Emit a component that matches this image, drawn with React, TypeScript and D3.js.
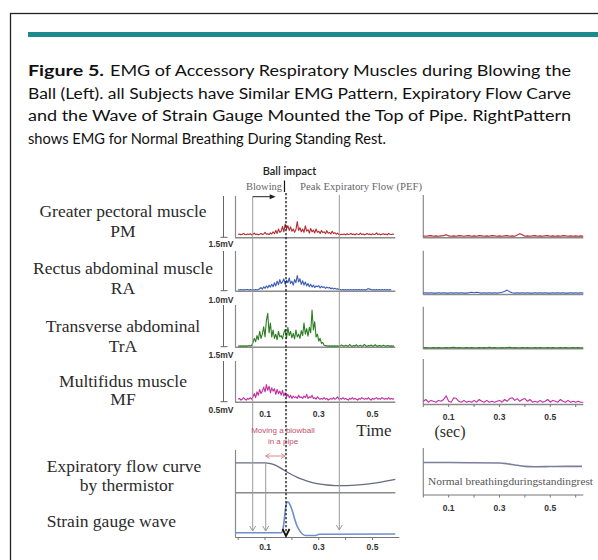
import { useEffect, useRef } from 'react';
import * as d3 from 'd3';

// sampling step of the traces (seconds)
const blowStep = 0.005;
const restStep = 0.01;

const muscleNames = [
  ['Greater pectoral muscle', 'PM'],
  ['Rectus abdominal muscle', 'RA'],
  ['Transverse abdominal', 'TrA'],
  ['Multifidus muscle', 'MF'],
];
const scaleLabels = ['1.5mV', '1.0mV', '1.5mV', '0.5mV'];
const scaleMax = [1.5, 1.0, 1.5, 0.5];
const traceColours = ['#b42a30', '#3b5cb6', '#2c7d22', '#c22ea2'];

// EMG during blowing (mV above baseline), one value every 5 ms from 0 s
const pmBlowing = [
  0.10, 0.12, 0.09, 0.11, 0.14, 0.10, 0.09, 0.12, 0.10, 0.13, 0.09, 0.11, 0.15, 0.10, 0.12, 0.09,
  0.11, 0.14, 0.10, 0.12, 0.18, 0.11, 0.13, 0.10, 0.16, 0.12, 0.20, 0.13,
  0.25, 0.14, 0.30, 0.18, 0.22, 0.40,
  0.20, 0.48, 0.30, 0.42, 0.25, 0.38, 0.22, 0.30, 0.18, 0.28, 0.57, 0.25,
  0.35, 0.20, 0.30, 0.18, 0.42, 0.22, 0.28, 0.15, 0.32, 0.20, 0.26, 0.16, 0.30, 0.18, 0.22, 0.14,
  0.25, 0.17, 0.20, 0.13, 0.24, 0.15, 0.18, 0.12, 0.22, 0.14, 0.17, 0.11, 0.15, 0.10,
  0.09, 0.11, 0.10, 0.12, 0.09, 0.13, 0.10, 0.11, 0.14, 0.10, 0.12, 0.09, 0.13, 0.11, 0.10, 0.15,
  0.10, 0.12, 0.09, 0.11, 0.14, 0.10, 0.12, 0.09, 0.13, 0.10, 0.11, 0.16, 0.10, 0.12, 0.09, 0.11,
  0.13, 0.10, 0.12, 0.09, 0.14, 0.11, 0.10, 0.12, 0.10,
];
const raBlowing = [
  0.03, 0.02, 0.03, 0.02, 0.03, 0.02, 0.03, 0.03, 0.02, 0.03, 0.02, 0.03, 0.02, 0.03, 0.02, 0.03,
  0.05, 0.08, 0.04, 0.10, 0.06, 0.12, 0.07, 0.14, 0.09, 0.16, 0.10, 0.20,
  0.12, 0.24, 0.15, 0.28, 0.18, 0.22, 0.30, 0.16, 0.26, 0.20, 0.32, 0.18, 0.24, 0.14, 0.28, 0.20, 0.38, 0.22,
  0.30, 0.16, 0.25, 0.14, 0.22, 0.12, 0.18, 0.10, 0.16, 0.09, 0.14, 0.08, 0.12, 0.10, 0.13, 0.07,
  0.11, 0.08, 0.10, 0.06, 0.09, 0.07, 0.08, 0.05, 0.07, 0.04, 0.06, 0.04, 0.05, 0.03,
  0.03, 0.02, 0.03, 0.02, 0.03, 0.02, 0.03, 0.02, 0.03, 0.02, 0.03, 0.02, 0.03, 0.02, 0.03, 0.02,
  0.03, 0.02, 0.03, 0.02, 0.04, 0.05, 0.04, 0.03, 0.02, 0.03, 0.02, 0.03, 0.02, 0.03, 0.02, 0.03,
  0.02, 0.03, 0.02, 0.03, 0.02, 0.03, 0.02,
];
const traBlowing = [
  0.03, 0.02, 0.03, 0.02, 0.03, 0.02, 0.03, 0.02, 0.04, 0.03, 0.04,
  0.15, 0.30, 0.18, 0.40, 0.25, 0.55, 0.30, 0.45, 0.72, 0.35, 0.95, 1.20,
  0.50, 0.85, 0.35, 0.60, 0.30, 0.45, 0.25, 0.55, 0.35, 0.40, 0.28, 0.50,
  0.62, 0.30, 0.70, 0.40, 0.55, 0.32, 0.48, 0.28, 0.60, 0.35, 0.45, 0.30,
  0.58, 0.40, 0.85, 0.45, 0.65, 0.38, 0.70, 0.50, 1.32, 0.60, 0.90, 0.35, 0.45, 0.20,
  0.30, 0.12, 0.15, 0.05, 0.04, 0.03, 0.02, 0.03, 0.02, 0.03, 0.02, 0.03, 0.02, 0.03, 0.02,
  0.03, 0.06, 0.03, 0.02, 0.05, 0.03, 0.02, 0.08, 0.03, 0.02, 0.04, 0.03, 0.07, 0.02, 0.03, 0.05,
  0.02, 0.03, 0.08, 0.03, 0.02, 0.04, 0.03, 0.06, 0.02, 0.03, 0.07, 0.03, 0.02, 0.04, 0.03, 0.02,
  0.05, 0.03, 0.02, 0.04, 0.03, 0.02, 0.03, 0.02, 0.03,
];
const mfBlowing = [
  0.03, 0.04, 0.02, 0.03, 0.05, 0.03, 0.02, 0.04, 0.03, 0.05, 0.03,
  0.06, 0.10, 0.05, 0.12, 0.08, 0.15, 0.10, 0.13, 0.18, 0.12, 0.21, 0.14, 0.19, 0.11, 0.17, 0.13,
  0.16, 0.09, 0.15, 0.10, 0.13, 0.08, 0.14, 0.07, 0.11, 0.06,
  0.09, 0.05, 0.08, 0.04, 0.07, 0.05, 0.06, 0.04, 0.08, 0.05, 0.06, 0.04, 0.07, 0.05, 0.09, 0.04,
  0.06, 0.05, 0.08, 0.04, 0.05, 0.03, 0.06, 0.04,
  0.03, 0.04, 0.03, 0.05, 0.03, 0.04, 0.02, 0.03, 0.04, 0.03, 0.05, 0.03, 0.04, 0.06, 0.03, 0.04,
  0.03, 0.05, 0.03, 0.04, 0.03, 0.02, 0.04, 0.03, 0.05, 0.03, 0.04, 0.03, 0.02, 0.04, 0.03, 0.05,
  0.04, 0.03, 0.04, 0.03, 0.05, 0.03, 0.02, 0.04, 0.03, 0.04, 0.05, 0.03, 0.04, 0.03, 0.05, 0.04,
  0.03, 0.04, 0.03, 0.05, 0.03, 0.04, 0.03, 0.04,
];

// EMG during standing rest, one value every 10 ms from 0 s
const pmRest = [
  0.05, 0.04, 0.05, 0.06, 0.04, 0.05, 0.04, 0.05, 0.06, 0.09, 0.05, 0.04, 0.05, 0.04, 0.06, 0.05,
  0.04, 0.05, 0.06, 0.04, 0.05, 0.04, 0.06, 0.05, 0.04, 0.05, 0.04, 0.06, 0.05, 0.04, 0.05, 0.04,
  0.05, 0.06, 0.04, 0.05, 0.04, 0.08, 0.13, 0.09, 0.04, 0.05, 0.04, 0.05, 0.06, 0.04, 0.05, 0.04,
  0.05, 0.06, 0.04, 0.05, 0.04, 0.05, 0.04, 0.06, 0.05, 0.04, 0.05, 0.04, 0.05, 0.04, 0.05, 0.04,
];
const raRest = [
  0.02, 0.03, 0.02, 0.03, 0.02, 0.02, 0.03, 0.02, 0.03, 0.02, 0.02, 0.03, 0.02, 0.03, 0.02, 0.03,
  0.02, 0.02, 0.03, 0.04, 0.03, 0.04, 0.03, 0.02, 0.03, 0.02, 0.03, 0.02, 0.03, 0.02, 0.03, 0.04,
  0.06, 0.09, 0.05, 0.03, 0.02, 0.03, 0.02, 0.03, 0.02, 0.03, 0.02, 0.02, 0.03, 0.02, 0.03, 0.02,
  0.03, 0.02, 0.02, 0.03, 0.02, 0.03, 0.02, 0.03, 0.02, 0.02, 0.03, 0.02, 0.03, 0.02, 0.03, 0.02,
];
const traRest = [
  0.02, 0.03, 0.02, 0.02, 0.03, 0.02, 0.03, 0.02, 0.02, 0.03, 0.02, 0.03, 0.04, 0.02, 0.03, 0.02,
  0.02, 0.03, 0.02, 0.03, 0.02, 0.02, 0.03, 0.02, 0.03, 0.02, 0.04, 0.02, 0.03, 0.02, 0.02, 0.03,
  0.02, 0.03, 0.04, 0.02, 0.03, 0.02, 0.02, 0.03, 0.02, 0.03, 0.02, 0.02, 0.03, 0.02, 0.03, 0.02,
  0.02, 0.03, 0.02, 0.03, 0.02, 0.02, 0.03, 0.02, 0.03, 0.02, 0.02, 0.03, 0.02, 0.03, 0.02, 0.02,
];
const mfRest = [
  0.03, 0.05, 0.02, 0.04, 0.03, 0.02, 0.04, 0.03, 0.05, 0.09, 0.03, 0.02, 0.07, 0.06, 0.03, 0.02,
  0.04, 0.02, 0.03, 0.02, 0.04, 0.02, 0.05, 0.03, 0.02, 0.04, 0.02, 0.03, 0.02, 0.03, 0.04, 0.02,
  0.05, 0.03, 0.06, 0.07, 0.04, 0.06, 0.03, 0.05, 0.06, 0.03, 0.05, 0.02, 0.03, 0.02, 0.04, 0.02,
  0.03, 0.05, 0.02, 0.04, 0.03, 0.02, 0.05, 0.03, 0.02, 0.04, 0.02, 0.03, 0.02, 0.03, 0.02, 0.02,
];

const blowingTraces = [pmBlowing, raBlowing, traBlowing, mfBlowing];
const restTraces = [pmRest, raRest, traRest, mfRest];

// expiratory flow (thermistor) and strain gauge, relative units
const flowTimes = [-0.01, 0.10, 0.12, 0.14, 0.16, 0.18, 0.20, 0.22, 0.24, 0.26, 0.28, 0.30, 0.33, 0.36, 0.39, 0.42, 0.46, 0.50, 0.54, 0.585];
const flowValues = [0.70, 0.70, 0.68, 0.64, 0.57, 0.49, 0.42, 0.36, 0.31, 0.265, 0.23, 0.205, 0.18, 0.168, 0.165, 0.17, 0.19, 0.22, 0.26, 0.31];
const strainTimes = [-0.01, 0.10, 0.16, 0.165, 0.17, 0.175, 0.18, 0.185, 0.19, 0.20, 0.21, 0.22, 0.23, 0.24, 0.25, 0.29, 0.30, 0.585];
const strainValues = [0, 0, 0, 0.05, 0.3, 0.7, 0.95, 1.0, 0.95, 0.75, 0.45, 0.2, 0.05, -0.05, -0.09, -0.09, -0.05, -0.04];
const restFlowTimes = [0, 0.10, 0.20, 0.30, 0.33, 0.36, 0.40, 0.44, 0.50, 0.56, 0.625];
const restFlowValues = [0.69, 0.69, 0.685, 0.68, 0.665, 0.64, 0.61, 0.60, 0.605, 0.61, 0.61];

const tickLabels = [0.1, 0.3, 0.5];
const minorTicks = [0, 0.1, 0.2, 0.3, 0.4, 0.5, 0.6];

// event times (s)
const blowingStart = 0.054;
const movingStart = 0.1025;
const ballImpact = 0.178;
const peakFlow = 0.3765;

const titleLines = [
  'Ball (Left). all Subjects have Similar EMG Pattern, Expiratory Flow Carve',
  'and the Wave of Strain Gauge Mounted the Top of Pipe. RightPattern',
  'shows EMG for Normal Breathing During Standing Rest.',
];

const serif = '"Liberation Serif", "Times New Roman", serif';
const sans = '"Liberation Sans", Arial, sans-serif';

const App = () => {
  const svgRef = useRef(null);

  useEffect(() => {
    const svg = d3.select(svgRef.current);
    svg.selectAll('*').remove();

    svg.append('rect').attr('width', 598).attr('height', 560).attr('fill', '#fff');

    // frame and header bar
    svg
      .append('rect')
      .attr('x', 10.5)
      .attr('y', 13.5)
      .attr('width', 700)
      .attr('height', 700)
      .attr('fill', 'none')
      .attr('stroke', '#222')
      .attr('stroke-width', 1.3);
    svg.append('rect').attr('x', 28).attr('y', 32).attr('width', 580).attr('height', 5).attr('fill', '#1d8a8e');

    // caption
    const title = svg.append('g').style('font-family', 'Lato, "Open Sans", sans-serif').style('font-size', '15.5px').attr('fill', '#111');
    title
      .append('text')
      .attr('x', 28)
      .attr('y', 76)
      .style('font-weight', 'bold')
      .attr('textLength', 76)
      .attr('lengthAdjust', 'spacingAndGlyphs')
      .text('Figure 5.');
    title
      .append('text')
      .attr('x', 110)
      .attr('y', 76)
      .attr('textLength', 461)
      .attr('lengthAdjust', 'spacingAndGlyphs')
      .text('EMG of Accessory Respiratory Muscles during Blowing the');
    const titleWidths = [543, 543, 358];
    titleLines.forEach((line, i) => {
      title
        .append('text')
        .attr('x', 28)
        .attr('y', 98.5 + i * 22.5)
        .attr('textLength', titleWidths[i])
        .attr('lengthAdjust', 'spacingAndGlyphs')
        .text(line);
    });

    // scales
    const xLeft = d3.scaleLinear().domain([-0.01, 0.585]).range([235.5, 395.3]);
    const xRight = d3.scaleLinear().domain([0, 0.63]).range([423.3, 583.3]);

    const leftTops = [196, 251, 305, 361];
    const leftBases = [237.3, 290.7, 346.7, 401.7];
    const rightTops = [195, 250.7, 306.7, 359];
    const rightBases = [237.3, 294, 348.3, 404];
    const labelBaselines = [
      [217.3, 236.5],
      [274, 293.5],
      [331.7, 351.7],
      [386.7, 405],
    ];
    const scaleLabelY = [247, 303, 358, 413];

    const grey = '#8a8a8a';

    // muscle labels
    muscleNames.forEach((names, i) => {
      names.forEach((name, j) => {
        svg
          .append('text')
          .attr('x', 123)
          .attr('y', labelBaselines[i][j])
          .attr('text-anchor', 'middle')
          .style('font-family', serif)
          .style('font-size', '17.5px')
          .attr('fill', '#2b2b2b')
          .text(name);
      });
    });

    const traceLine = (x, y, step) =>
      d3
        .line()
        .x((_, i) => x(i * step))
        .y((d) => y(d))
        .curve(d3.curveLinear);

    // left EMG panels
    blowingTraces.forEach((trace, i) => {
      const y = d3.scaleLinear().domain([0, scaleMax[i]]).range([leftBases[i], leftTops[i]]);
      const g = svg.append('g');

      // calibration bar
      g.append('line').attr('x1', 223.5).attr('x2', 223.5).attr('y1', leftTops[i]).attr('y2', leftBases[i]).attr('stroke', '#666').attr('stroke-width', 1);
      g.append('line').attr('x1', 220.5).attr('x2', 227.5).attr('y1', leftBases[i]).attr('y2', leftBases[i]).attr('stroke', '#666').attr('stroke-width', 1);
      g.append('text')
        .attr('x', 221)
        .attr('y', scaleLabelY[i])
        .attr('text-anchor', 'middle')
        .style('font-family', sans)
        .style('font-size', '8.5px')
        .style('font-weight', 'bold')
        .attr('fill', '#333')
        .text(scaleLabels[i]);

      g.append('line').attr('x1', xLeft(-0.01)).attr('x2', xLeft(-0.01)).attr('y1', leftTops[i]).attr('y2', leftBases[i] + 1).attr('stroke', grey).attr('stroke-width', 1.2);
      g.append('line').attr('x1', xLeft(-0.01)).attr('x2', xLeft(0.585)).attr('y1', leftBases[i] + 0.5).attr('y2', leftBases[i] + 0.5).attr('stroke', grey).attr('stroke-width', 1.4);

      g.append('path')
        .attr('d', traceLine(xLeft, y, blowStep)(trace))
        .attr('fill', 'none')
        .attr('stroke', traceColours[i])
        .attr('stroke-width', 1.1)
        .attr('stroke-linejoin', 'round');
    });

    // right EMG panels
    restTraces.forEach((trace, i) => {
      const y = d3.scaleLinear().domain([0, scaleMax[i]]).range([rightBases[i], rightTops[i]]);
      const g = svg.append('g');
      g.append('line').attr('x1', xRight(0)).attr('x2', xRight(0)).attr('y1', rightTops[i]).attr('y2', rightBases[i] + 1).attr('stroke', grey).attr('stroke-width', 1.2);
      g.append('line').attr('x1', xRight(0)).attr('x2', xRight(0.63)).attr('y1', rightBases[i] + 0.5).attr('y2', rightBases[i] + 0.5).attr('stroke', grey).attr('stroke-width', 1.4);
      g.append('path')
        .attr('d', traceLine(xRight, y, restStep)(trace))
        .attr('fill', 'none')
        .attr('stroke', traceColours[i])
        .attr('stroke-width', 1.1)
        .attr('stroke-linejoin', 'round');
    });

    const tickText = (yPos, values, scale) =>
      svg
        .append('g')
        .selectAll('text')
        .data(values)
        .enter()
        .append('text')
        .attr('x', (d) => scale(d))
        .attr('y', yPos)
        .attr('text-anchor', 'middle')
        .style('font-family', sans)
        .style('font-size', '8.5px')
        .style('font-weight', 'bold')
        .attr('fill', '#333')
        .text((d) => d.toFixed(1));

    const tickMarks = (yPos, scale) =>
      svg
        .append('g')
        .selectAll('line')
        .data(minorTicks.filter((t) => scale(t) <= scale.range()[1] + 1))
        .enter()
        .append('line')
        .attr('x1', (d) => scale(d))
        .attr('x2', (d) => scale(d))
        .attr('y1', yPos)
        .attr('y2', yPos + 2.5)
        .attr('stroke', '#777')
        .attr('stroke-width', 1);

    tickText(417, tickLabels, xLeft);
    tickMarks(rightBases[3] + 0.5, xRight);
    tickText(419.5, tickLabels, xRight);

    svg.append('text').attr('x', 374).attr('y', 435.5).attr('text-anchor', 'middle').style('font-family', serif).style('font-size', '17px').attr('fill', '#2b2b2b').text('Time');
    svg.append('text').attr('x', 450).attr('y', 437).attr('text-anchor', 'middle').style('font-family', serif).style('font-size', '16px').attr('fill', '#2b2b2b').text('(sec)');

    // flow & strain panel (left)
    const flowY = d3.scaleLinear().domain([0, 1]).range([492.7, 450]);
    const strainY = d3.scaleLinear().domain([0, 1]).range([532.7, 501.7]);

    svg.append('line').attr('x1', xLeft(-0.01)).attr('x2', xLeft(-0.01)).attr('y1', 450).attr('y2', 537.5).attr('stroke', grey).attr('stroke-width', 1.2);
    svg.append('line').attr('x1', xLeft(-0.01)).attr('x2', xLeft(0.585)).attr('y1', flowY(0)).attr('y2', flowY(0)).attr('stroke', grey).attr('stroke-width', 1.4);
    svg.append('line').attr('x1', xLeft(-0.01)).attr('x2', xLeft(0.6)).attr('y1', 537.5).attr('y2', 537.5).attr('stroke', '#777').attr('stroke-width', 1.2);
    tickMarks(537.5, xLeft);
    tickText(550, tickLabels, xLeft);

    const flowLine = d3
      .line()
      .x((i) => xLeft(flowTimes[i]))
      .y((i) => flowY(flowValues[i]))
      .curve(d3.curveMonotoneX);
    svg.append('path').attr('d', flowLine(d3.range(flowTimes.length))).attr('fill', 'none').attr('stroke', '#666b80').attr('stroke-width', 1.3);

    const strainLine = d3
      .line()
      .x((i) => xLeft(strainTimes[i]))
      .y((i) => strainY(strainValues[i]))
      .curve(d3.curveMonotoneX);
    svg.append('path').attr('d', strainLine(d3.range(strainTimes.length))).attr('fill', 'none').attr('stroke', '#6d8fcf').attr('stroke-width', 1.6);

    // flow panel (right)
    const restFlowY = d3.scaleLinear().domain([0, 1]).range([495, 448]);
    svg.append('line').attr('x1', xRight(0)).attr('x2', xRight(0)).attr('y1', 448).attr('y2', 495).attr('stroke', grey).attr('stroke-width', 1.2);
    svg.append('line').attr('x1', xRight(0)).attr('x2', xRight(0.63)).attr('y1', 495).attr('y2', 495).attr('stroke', '#777').attr('stroke-width', 1.2);
    tickMarks(495, xRight);
    tickText(510.5, tickLabels, xRight);
    const restFlowLine = d3
      .line()
      .x((i) => xRight(restFlowTimes[i]))
      .y((i) => restFlowY(restFlowValues[i]))
      .curve(d3.curveMonotoneX);
    svg.append('path').attr('d', restFlowLine(d3.range(restFlowTimes.length))).attr('fill', 'none').attr('stroke', '#7b7f9c').attr('stroke-width', 1.6);
    svg
      .append('text')
      .attr('x', 428)
      .attr('y', 484.5)
      .style('font-family', serif)
      .style('font-size', '9.5px')
      .attr('fill', '#555')
      .attr('textLength', 165)
      .attr('lengthAdjust', 'spacingAndGlyphs')
      .text('Normal breathingduringstandingrest');

    // event markers
    const markerGrey = '#9a9a9a';
    const vArrow = (x, yEnd, colour, width) =>
      svg
        .append('path')
        .attr('d', `M${x - 3},${yEnd - 5}L${x},${yEnd}L${x + 3},${yEnd - 5}`)
        .attr('fill', 'none')
        .attr('stroke', colour)
        .attr('stroke-width', width);

    svg.append('line').attr('x1', xLeft(blowingStart)).attr('x2', xLeft(blowingStart)).attr('y1', 196.5).attr('y2', 531).attr('stroke', markerGrey).attr('stroke-width', 1);
    vArrow(xLeft(blowingStart), 531, markerGrey, 1);
    svg.append('line').attr('x1', xLeft(movingStart)).attr('x2', xLeft(movingStart)).attr('y1', 462).attr('y2', 531).attr('stroke', markerGrey).attr('stroke-width', 1);
    vArrow(xLeft(movingStart), 531, markerGrey, 1);
    svg.append('line').attr('x1', xLeft(peakFlow)).attr('x2', xLeft(peakFlow)).attr('y1', 195).attr('y2', 530).attr('stroke', markerGrey).attr('stroke-width', 1);
    vArrow(xLeft(peakFlow), 530, markerGrey, 1);

    // blowing arrow
    svg
      .append('path')
      .attr('d', `M${xLeft(blowingStart)},196.7H${xLeft(blowingStart) + 18}`)
      .attr('stroke', '#222')
      .attr('stroke-width', 1);
    const ax = xLeft(blowingStart) + 23;
    svg.append('path').attr('d', `M${ax},196.7L${ax - 6},194.2L${ax - 6},199.2Z`).attr('fill', '#222');

    // ball impact line
    const bx = xLeft(ballImpact);
    svg.append('line').attr('x1', bx - 1.5).attr('x2', bx - 1.5).attr('y1', 180.5).attr('y2', 192).attr('stroke', '#111').attr('stroke-width', 1.2);
    svg
      .append('line')
      .attr('x1', bx)
      .attr('x2', bx)
      .attr('y1', 193)
      .attr('y2', 533)
      .attr('stroke', '#111')
      .attr('stroke-width', 1.3)
      .attr('stroke-dasharray', '2.2,1.8');
    svg.append('path').attr('d', `M${bx - 3.5},${529}L${bx},${536}L${bx + 3.5},${529}`).attr('fill', 'none').attr('stroke', '#111').attr('stroke-width', 1.8);

    svg.append('text').attr('x', 289.5).attr('y', 175).attr('text-anchor', 'middle').style('font-family', 'Lato, "Open Sans", sans-serif').style('font-size', '11px').style('font-weight', 600).attr('fill', '#222').text('Ball impact');
    svg.append('text').attr('x', 246).attr('y', 190).style('font-family', serif).style('font-size', '9.5px').attr('fill', '#666').attr('textLength', 36).attr('lengthAdjust', 'spacingAndGlyphs').text('Blowing');
    svg.append('text').attr('x', 300).attr('y', 190).style('font-family', serif).style('font-size', '9.5px').attr('fill', '#666').attr('textLength', 122).attr('lengthAdjust', 'spacingAndGlyphs').text('Peak Expiratory Flow (PEF)');

    // moving a blowball
    const pink = '#c4506c';
    svg.append('text').attr('x', 283).attr('y', 432.5).attr('text-anchor', 'middle').style('font-family', sans).style('font-size', '8px').attr('fill', pink).text('Moving a blowball');
    svg.append('text').attr('x', 283).attr('y', 444).attr('text-anchor', 'middle').style('font-family', sans).style('font-size', '8px').attr('fill', pink).text('in a pipe');
    const m0 = xLeft(movingStart);
    const m1 = bx - 1;
    svg
      .append('path')
      .attr('d', `M${m0},456H${m1}M${m0 + 4},453.5L${m0},456L${m0 + 4},458.5M${m1 - 4},453.5L${m1},456L${m1 - 4},458.5`)
      .attr('fill', 'none')
      .attr('stroke', '#d48a92')
      .attr('stroke-width', 1);

    // flow / strain labels
    const lowerLabels = [
      ['Expiratory flow curve', 124, 471.7, 'middle'],
      ['by thermistor', 126.7, 490.5, 'middle'],
      ['Strain gauge wave', 46.7, 527.3, 'start'],
    ];
    lowerLabels.forEach(([t, x, y, anchor]) => {
      svg
        .append('text')
        .attr('x', x)
        .attr('y', y)
        .attr('text-anchor', anchor)
        .style('font-family', serif)
        .style('font-size', '17.5px')
        .attr('fill', '#2b2b2b')
        .text(t);
    });
  }, []);

  return (
    <div>
      <svg ref={svgRef} width={598} height={560} viewBox="0 0 598 560" style={{ position: 'absolute', left: 0, top: 0 }} />
    </div>
  );
};

export default App;
